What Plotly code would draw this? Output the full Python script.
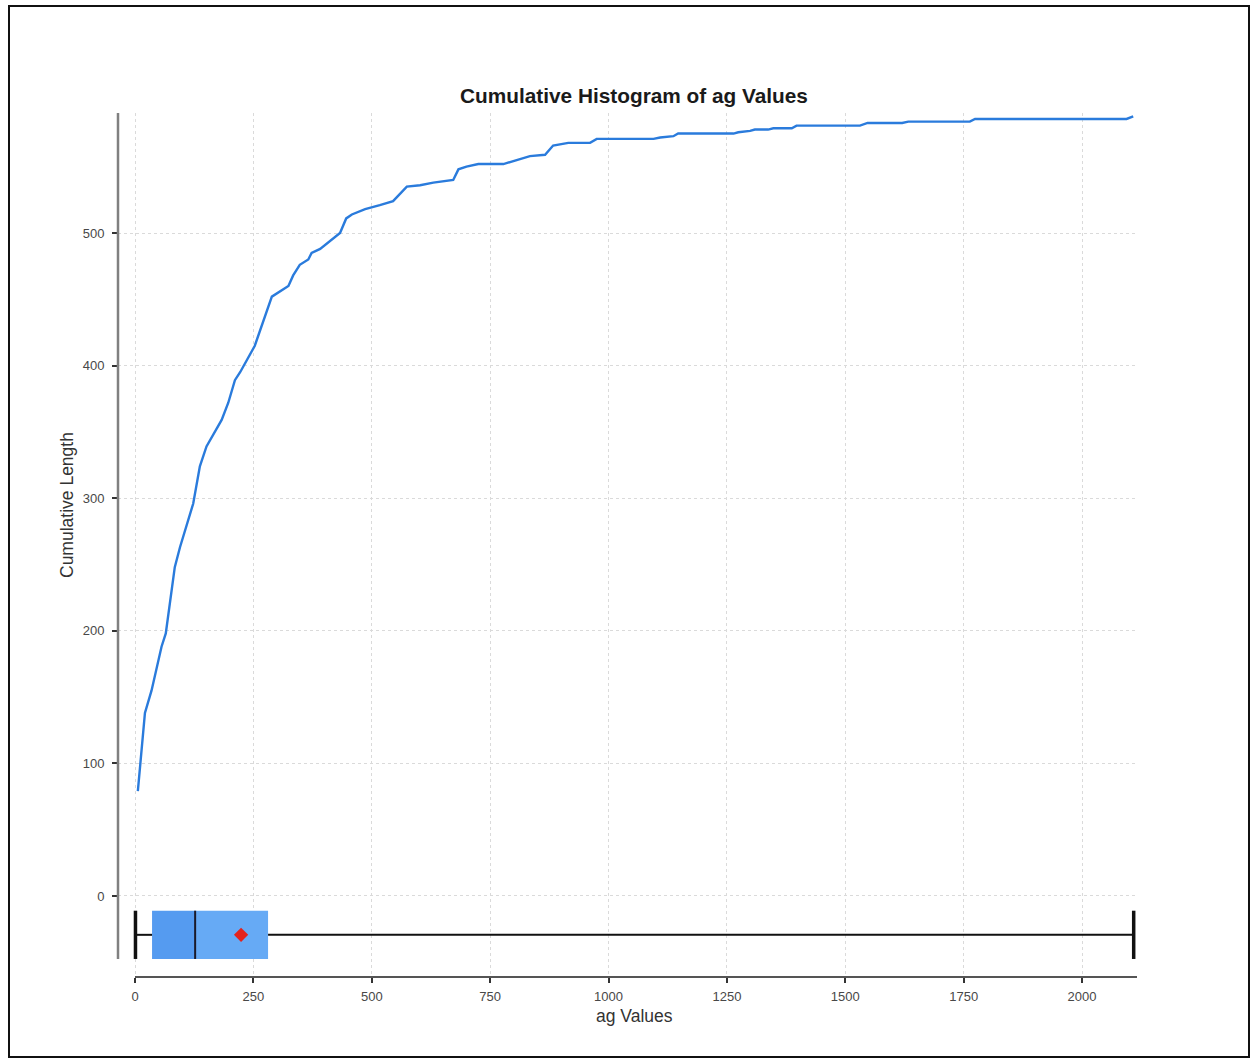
import plotly.graph_objects as go

# ---------------- data ----------------
ag_values = [6, 21, 35, 56, 65, 84, 95, 123, 137, 151, 183, 197, 211, 222, 253, 289,
             324, 334, 348, 366, 373, 391, 433, 446, 458, 486, 517, 545, 574, 602,
             630, 672, 683, 700, 725, 778, 806, 834, 866, 883, 915, 961, 975, 1095,
             1109, 1137, 1147, 1264, 1274, 1299, 1309, 1337, 1348, 1387, 1397, 1531,
             1547, 1620, 1633, 1763, 1774, 2094, 2108]
cumulative_length = [79, 138, 155, 188, 198, 248, 263, 296, 324, 339, 359, 372, 389, 395,
                     415, 452, 460, 468, 476, 480, 485, 488, 500, 511, 514, 518, 521, 524,
                     535, 536, 538, 540, 548, 550, 552, 552, 555, 558, 559, 566, 568, 568,
                     571, 571, 572, 573, 575, 575, 576, 577, 578, 578, 579, 579, 581, 581,
                     583, 583, 584, 584, 586, 586, 588]

# box-plot summary of ag values
box_min = 1
box_q1 = 36
box_median = 127
box_q3 = 281
box_max = 2109
box_mean = 224

x_ticks = [0, 250, 500, 750, 1000, 1250, 1500, 1750, 2000]
y_ticks = [0, 100, 200, 300, 400, 500]

# ---------------- style / layout ----------------
W, H = 1257, 1063
ML, MR, MT, MB = 118, 120, 113, 86
box_center = -29.3     # vertical position of the box (in y units)
box_half = 18.2        # half height of the box (in y units)
x_range = [-35.9, 2116]
y_range = [-61.1, 590.5]

pw = W - ML - MR
ph = H - MT - MB


def px_to_paper_x(px):
    return (px - ML) / pw


def px_to_paper_y(py):
    return (H - MB - py) / ph


fig = go.Figure()

bb = box_center - box_half
bt = box_center + box_half

# box: Q1 -> median
fig.add_trace(go.Scatter(
    x=[box_q1, box_median, box_median, box_q1, box_q1],
    y=[bb, bb, bt, bt, bb], mode="lines", fill="toself",
    fillcolor="#559bf0", line=dict(width=0), hoverinfo="skip", showlegend=False))
# box: median -> Q3
fig.add_trace(go.Scatter(
    x=[box_median, box_q3, box_q3, box_median, box_median],
    y=[bb, bb, bt, bt, bb], mode="lines", fill="toself",
    fillcolor="#66aaf5", line=dict(width=0), hoverinfo="skip", showlegend=False))
# whiskers
fig.add_trace(go.Scatter(
    x=[box_min, box_q1, None, box_q3, box_max],
    y=[box_center, box_center, None, box_center, box_center],
    mode="lines", line=dict(color="#111111", width=2), hoverinfo="skip", showlegend=False))
# caps
fig.add_trace(go.Scatter(
    x=[box_min, box_min, None, box_max, box_max],
    y=[bb, bt, None, bb, bt],
    mode="lines", line=dict(color="#111111", width=3.5), hoverinfo="skip", showlegend=False))
# median
fig.add_trace(go.Scatter(
    x=[box_median, box_median], y=[bb, bt],
    mode="lines", line=dict(color="#1a1a2a", width=2), hoverinfo="skip", showlegend=False))
# mean
fig.add_trace(go.Scatter(
    x=[box_mean], y=[box_center], mode="markers",
    marker=dict(symbol="diamond", size=11, color="#e3221c"), showlegend=False))

# cumulative curve
fig.add_trace(go.Scatter(
    x=ag_values, y=cumulative_length, mode="lines",
    line=dict(color="#2a7bdc", width=2.4), showlegend=False))

tick_font = dict(family="Liberation Sans, Arial, sans-serif", size=13, color="#484848")

fig.update_layout(
    width=W, height=H,
    margin=dict(l=ML, r=MR, t=MT, b=MB, pad=0),
    paper_bgcolor="white", plot_bgcolor="white",
    title=dict(text="<b>Cumulative Histogram of ag Values</b>",
               x=px_to_paper_x(634), xref="paper", xanchor="center",
               y=1 - 96 / H, yref="container", yanchor="middle",
               font=dict(family="Liberation Sans, Arial, sans-serif", size=20.8, color="#1a1a1a")),
    xaxis=dict(range=x_range, tickvals=x_ticks, ticktext=[str(v) for v in x_ticks],
               showline=False, zeroline=False,
               showgrid=True, gridcolor="#dadada", griddash="dot", gridwidth=1,
               ticks="outside", ticklen=5, tickwidth=1.5, tickcolor="#333333",
               tickfont=tick_font, ticklabelstandoff=2),
    yaxis=dict(range=y_range, tickvals=y_ticks, ticktext=[str(v) for v in y_ticks],
               showline=False, zeroline=False,
               showgrid=True, gridcolor="#dadada", griddash="dot", gridwidth=1,
               ticks="outside", ticklen=5, tickwidth=1.5, tickcolor="#333333",
               tickfont=tick_font, ticklabelstandoff=5),
    annotations=[
        dict(text="Cumulative Length", textangle=-90, xref="paper", yref="paper",
             x=px_to_paper_x(67), y=px_to_paper_y(505), xanchor="center", yanchor="middle",
             showarrow=False,
             font=dict(family="Liberation Sans, Arial, sans-serif", size=17.5, color="#333333")),
        dict(text="ag Values", xref="paper", yref="paper",
             x=px_to_paper_x(634), y=px_to_paper_y(1016), xanchor="center", yanchor="middle",
             showarrow=False,
             font=dict(family="Liberation Sans, Arial, sans-serif", size=17.5, color="#333333")),
    ],
    shapes=[
        # trimmed y axis line
        dict(type="line", xref="paper", yref="y", x0=0, x1=0, y0=bb, y1=y_range[1],
             line=dict(color="#808080", width=2.5)),
        # trimmed x axis line
        dict(type="line", xref="x", yref="paper", x0=x_ticks[0], x1=x_range[1], y0=0, y1=0,
             line=dict(color="#555555", width=2)),
        # outer frame
        dict(type="rect", xref="paper", yref="paper",
             x0=px_to_paper_x(9), x1=px_to_paper_x(1249),
             y0=px_to_paper_y(1057), y1=px_to_paper_y(6),
             line=dict(color="#111111", width=2), fillcolor="rgba(0,0,0,0)", layer="above"),
    ],
)

fig.write_html("out.html")
